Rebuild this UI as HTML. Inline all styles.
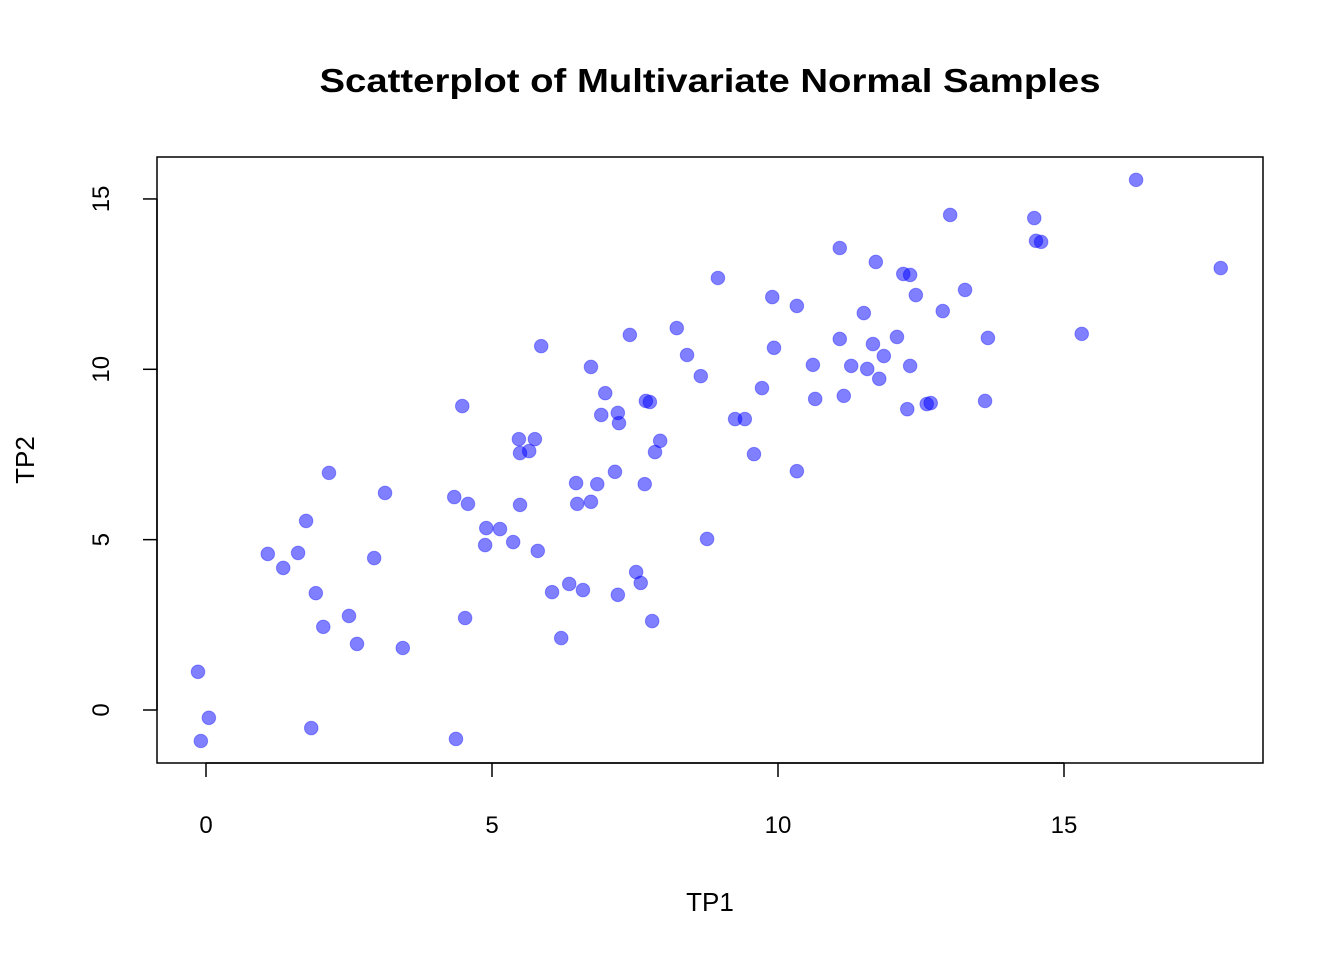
<!DOCTYPE html>
<html><head><meta charset="utf-8"><style>
html,body{margin:0;padding:0;background:#fff;}
svg{display:block;font-family:"Liberation Sans",Arial,sans-serif;}
</style></head><body>
<svg id="chart" width="1344" height="960" viewBox="0 0 1344 960">
<text x="710" y="92" text-anchor="middle" font-size="33" font-weight="bold" textLength="781" lengthAdjust="spacingAndGlyphs">Scatterplot of Multivariate Normal Samples</text>
<rect x="157" y="157" width="1106" height="606" fill="none" stroke="#000" stroke-width="1.5"/>
<g id="xaxis"></g>
<g id="yaxis"></g>
<g id="points"></g>
<text x="710" y="911" text-anchor="middle" font-size="26">TP1</text>
<text transform="translate(34,460) rotate(-90)" text-anchor="middle" font-size="26">TP2</text>
</svg>
<script>
const xValues=[16.26,13.01,14.48,14.51,14.60,11.08,11.71,12.19,12.31,8.95,17.74,9.90,10.33,12.41,13.27,11.50,12.88,7.41,8.23,11.08,12.08,13.67,15.31,5.86,11.66,9.93,8.41,11.85,6.73,10.61,11.28,12.31,11.56,8.65,11.77,6.98,9.72,10.65,11.15,7.69,7.76,13.62,12.26,12.60,12.67,4.48,6.91,7.20,7.22,9.25,9.42,5.47,5.75,7.94,5.65,5.49,7.85,9.58,2.15,10.33,7.15,6.47,6.84,7.67,3.13,4.34,4.58,5.49,6.49,6.73,1.75,4.90,5.14,5.37,4.88,8.76,5.80,1.08,1.61,2.94,1.35,7.52,7.60,6.35,1.92,6.05,6.59,7.20,2.50,4.53,7.80,2.05,6.21,2.64,3.44,-0.14,0.05,1.84,-0.09,4.37];
const yValues=[15.56,14.53,14.44,13.77,13.74,13.56,13.15,12.80,12.77,12.68,12.97,12.12,11.86,12.18,12.33,11.65,11.71,11.01,11.21,10.89,10.95,10.92,11.04,10.68,10.74,10.63,10.42,10.39,10.07,10.13,10.10,10.10,10.01,9.80,9.72,9.30,9.45,9.13,9.22,9.07,9.04,9.07,8.83,8.98,9.01,8.92,8.66,8.72,8.42,8.54,8.54,7.95,7.95,7.90,7.60,7.54,7.57,7.51,6.96,7.01,6.99,6.66,6.63,6.63,6.37,6.25,6.05,6.02,6.05,6.11,5.55,5.34,5.31,4.93,4.84,5.02,4.67,4.58,4.61,4.46,4.17,4.05,3.73,3.70,3.43,3.46,3.52,3.38,2.76,2.70,2.61,2.44,2.11,1.94,1.82,1.12,-0.23,-0.53,-0.91,-0.85];
const xTicks=[0,5,10,15];
const yTicks=[0,5,10,15];
const NS="http://www.w3.org/2000/svg";
function sx(v){return 206+v*57.2;}
function sy(v){return 710-v*34.07;}
function mk(tag,attrs,parent){const e=document.createElementNS(NS,tag);for(const k in attrs)e.setAttribute(k,attrs[k]);parent.appendChild(e);return e;}
const xg=document.getElementById('xaxis'),yg=document.getElementById('yaxis'),pg=document.getElementById('points');
mk('line',{x1:sx(xTicks[0]),x2:sx(xTicks[xTicks.length-1]),y1:763,y2:763,stroke:'#000','stroke-width':1.5},xg);
xTicks.forEach(t=>{
  const l=mk('line',{x1:sx(t),x2:sx(t),y1:763,y2:777,stroke:'#000','stroke-width':1.5},xg);
  
  
  const tx=mk('text',{x:sx(t),y:833,'text-anchor':'middle','font-size':24},xg);tx.textContent=t;
  
  
});
mk('line',{x1:157,x2:157,y1:sy(yTicks[0]),y2:sy(yTicks[yTicks.length-1]),stroke:'#000','stroke-width':1.5},yg);
yTicks.forEach(t=>{
  const l=mk('line',{x1:143,x2:157,y1:sy(t),y2:sy(t),stroke:'#000','stroke-width':1.5},yg);
  
  
  const tx=mk('text',{transform:`translate(109,${sy(t)}) rotate(-90)`,'text-anchor':'middle','font-size':24},yg);tx.textContent=t;
  
  
});
xValues.forEach((v,i)=>{
  const c=mk('circle',{cx:sx(v),cy:sy(yValues[i]),r:6.8,fill:'rgba(0,0,255,0.5)',stroke:'rgba(0,0,255,0.35)','stroke-width':1},pg);
  
  
});
</script>
</body></html>
